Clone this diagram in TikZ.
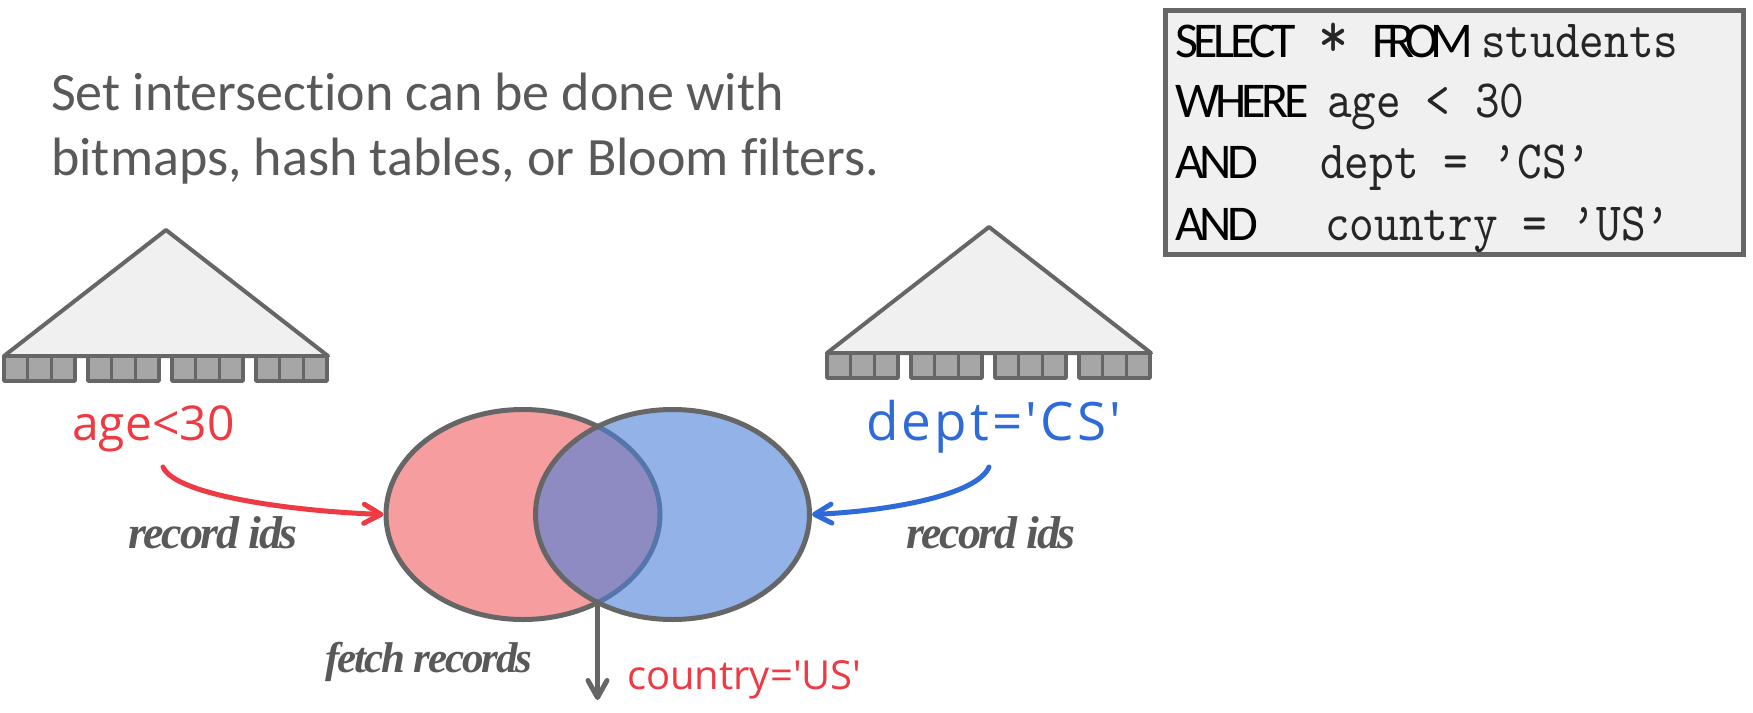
\documentclass[tikz,border=0pt]{standalone}
\usepackage{fontspec}
\usetikzlibrary{shapes.geometric,arrows.meta}
\newfontfamily\titlefont[Ligatures=CommonOff]{Carlito}
\newfontfamily\kwfont[LetterSpace=-9]{Carlito}
\newfontfamily\kwtight[LetterSpace=-16]{Carlito}
\newfontfamily\codefont[Extension=.otf,FakeStretch=0.87]{lmmono10-regular}
\newfontfamily\osfont[Ligatures=TeXOff]{Open Sans}
\newfontfamily\oswide[Ligatures=TeXOff,LetterSpace=6]{Open Sans}
\newfontfamily\lblfont[LetterSpace=-5]{Liberation Serif}
\definecolor{linegray}{HTML}{666666}
\definecolor{txtgray}{HTML}{595959}
\definecolor{lightfill}{HTML}{F0F0F0}
\definecolor{barfill}{HTML}{A6A6A6}
\definecolor{myred}{HTML}{EE3A43}
\definecolor{myblue}{HTML}{2E6BD8}
\definecolor{vennred}{HTML}{F59D9F}
\definecolor{vennblue}{HTML}{4A80DA}
\begin{document}
\begin{tikzpicture}[x=1pt,y=-1pt,
  titletxt/.style={anchor=base west,inner sep=0,text=txtgray,font=\titlefont\fontsize{54}{65}\selectfont},
  sqlbox/.style={draw=linegray,line width=5,fill=lightfill,minimum width=578,minimum height=244,inner sep=0},
  kw/.style={anchor=base west,inner sep=0,text=black,font=\kwfont\fontsize{50}{50}\selectfont},
  kwt/.style={anchor=base west,inner sep=0,text=black,font=\kwtight\fontsize{50}{50}\selectfont},
  code/.style={anchor=base west,inner sep=0,text=black!85,font=\codefont\fontsize{54}{54}\selectfont},
  star/.style={anchor=base west,inner sep=0,text=black!85,font=\codefont\fontsize{66}{66}\selectfont},
  treebody/.style={draw=linegray,line width=4,line join=round,fill=lightfill},
  barcell/.style={draw=linegray,line width=3.5,line join=round,fill=barfill},
  redlbl/.style={anchor=base west,inner sep=0,text=myred,font=\osfont\fontsize{48}{48}\selectfont},
  bluelbl/.style={anchor=base west,inner sep=0,text=myblue,font=\oswide\fontsize{53}{53}\selectfont},
  smallred/.style={anchor=base west,inner sep=0,text=myred,font=\osfont\fontsize{40}{40}\selectfont},
  lbl/.style={anchor=base west,inner sep=0,text=txtgray,font=\lblfont\bfseries\itshape\fontsize{46}{46}\selectfont},
  smalllbl/.style={anchor=base west,inner sep=0,text=txtgray,font=\lblfont\bfseries\itshape\fontsize{43}{43}\selectfont},
  vennL/.style={ellipse,draw=linegray,line width=5,fill=vennred,minimum width=274,minimum height=210,inner sep=0},
  vennR/.style={ellipse,draw=linegray,line width=5,fill=vennblue,fill opacity=0.6,draw opacity=1,minimum width=274,minimum height=210,inner sep=0},
  flow/.style={line width=5,line cap=round,-{Straight Barb[length=17pt,width=19pt,round]}},
  idxtree/.pic={
    \path[treebody] (0,0) -- (-162,126) -- (162,126) -- cycle;
    \foreach \g in {-162,-78,6,90}{
      \foreach \k in {0,1,2}{
        \path[barcell] ({\g+\k*23.67},126) rectangle ++(23.67,25);
      }
    }
  }
]
\path[fill=white] (0,0) rectangle (1753,712);
\useasboundingbox (0,0) rectangle (1753,712);

% title
\node[titletxt] (t1) at (51,110) {Set intersection can be done with};
\node[titletxt] (t2) at (51,175) {bitmaps, hash tables, or Bloom filters.};

% SQL box
\node[sqlbox] (sql) at (1454.5,132.5) {};
\node[kw] (k1) at (1175,57) {SELECT};
\node[star] (c0) at (1318,57) {*};
\node[kwt] (k2) at (1372,57) {FROM};
\node[code] (c1) at (1481,57) {students};
\node[kw] (k3) at (1175,117) {WHERE};
\node[code] (c2) at (1327,117) {age < 30};
\node[kw] (k4) at (1175,178) {AND};
\node[code] (c3) at (1320,178) {dept = ’CS’};
\node[kw] (k5) at (1175,240) {AND};
\node[code] (c4) at (1325,240) {country = ’US’};

% index trees
\pic at (166,230) {idxtree};
\pic at (989,227) {idxtree};

% predicates
\node[redlbl] (age) at (72,440) {age<30};
\node[bluelbl] (dept) at (866,440) {dept='CS'};

% Venn diagram
\node[vennL] (L) at (523,514.5) {};
\node[vennR] (R) at (672.5,514.5) {};

% arrows
\coordinate (agearr) at (163,467);
\coordinate (deptarr) at (989,467);
\coordinate (isect) at (597.5,602);
\coordinate (down) at (597.5,700);
\draw[flow,myred] (agearr) .. controls (175,495) and (290,511) .. (L.west);
\draw[flow,myblue] (deptarr) .. controls (977,495) and (890,511) .. (R.east);
\draw[flow,linegray] (isect) -- (down);

% labels
\node[lbl] (rid1) at (128,548) {record ids};
\node[lbl] (rid2) at (906,548) {record ids};
\node[smalllbl] (fetch) at (325,672) {fetch records};
\node[smallred] (country) at (627,689) {country='US'};
\end{tikzpicture}
\end{document}
